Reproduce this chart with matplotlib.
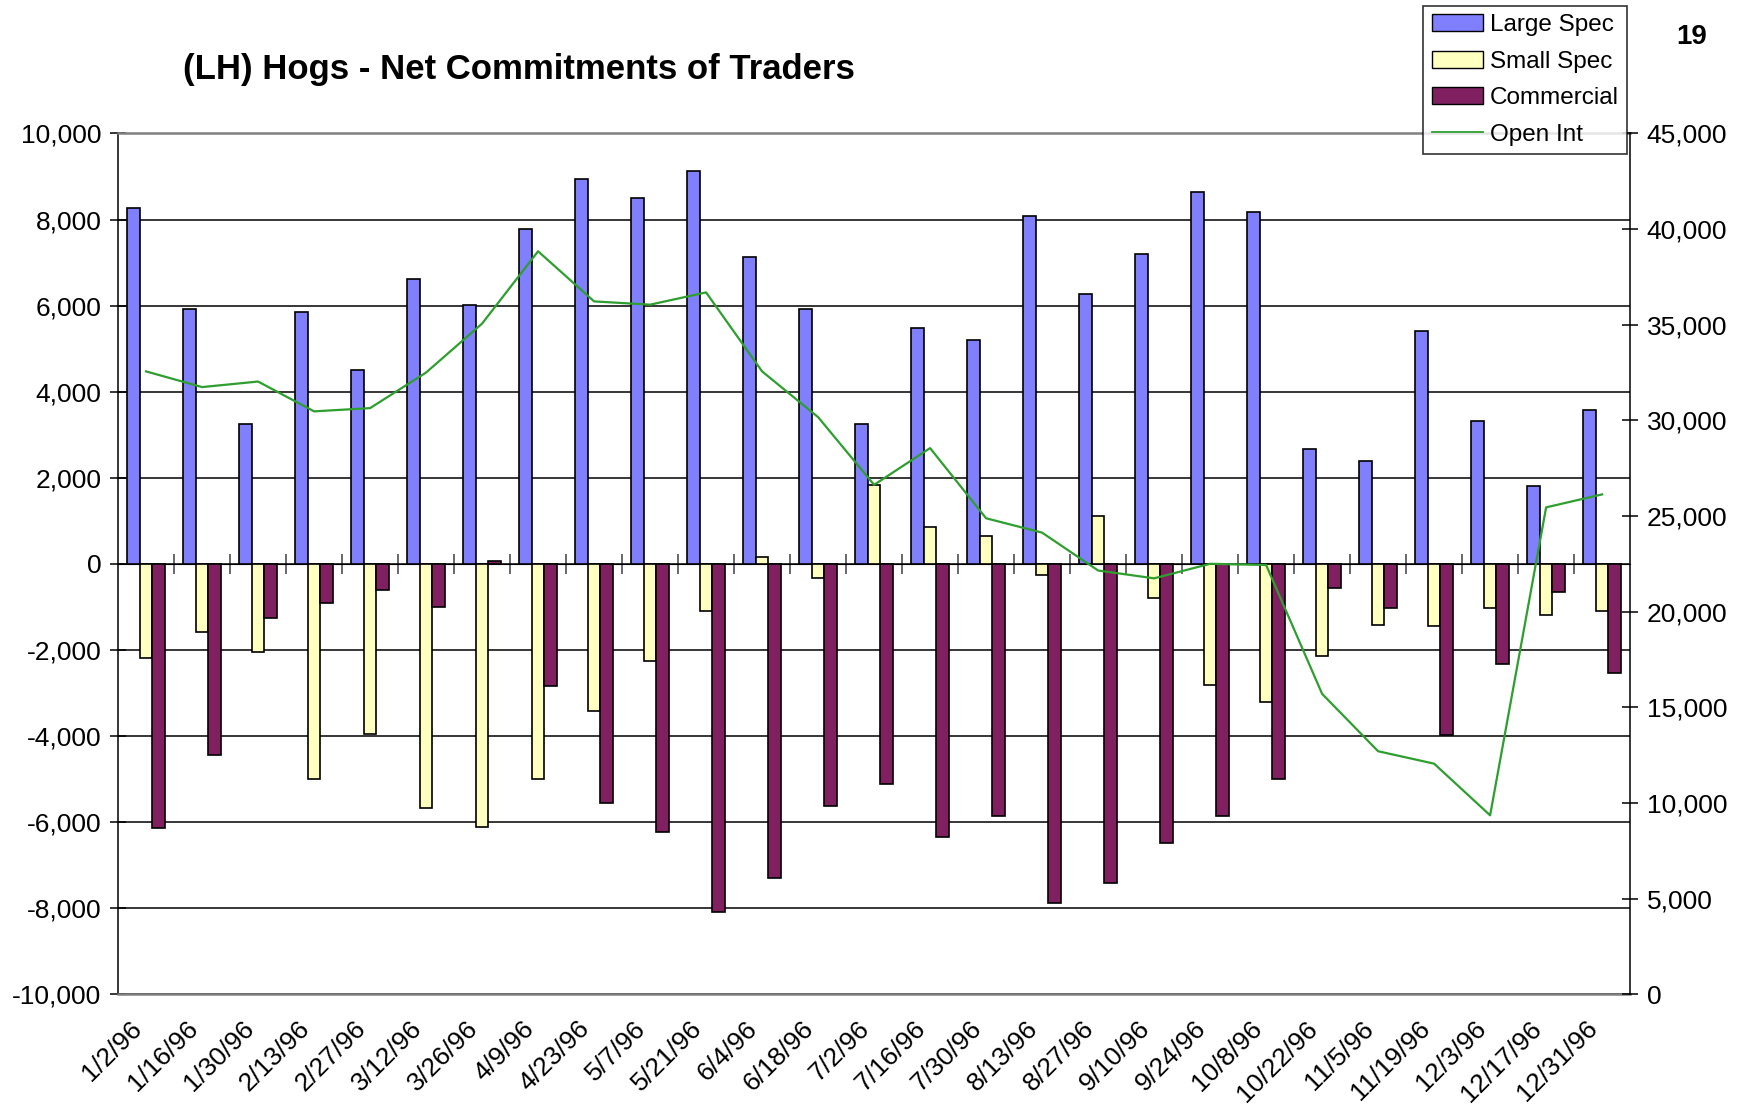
import numpy as np
import matplotlib
matplotlib.use("Agg")
import matplotlib.pyplot as plt
import matplotlib.transforms as mtransforms
from matplotlib.patches import Patch
from matplotlib.lines import Line2D
from matplotlib.ticker import FuncFormatter

plt.rcParams['font.family'] = ['Liberation Sans', 'DejaVu Sans']

dates = ["1/2/96", "1/16/96", "1/30/96", "2/13/96", "2/27/96", "3/12/96", "3/26/96",
         "4/9/96", "4/23/96", "5/7/96", "5/21/96", "6/4/96", "6/18/96", "7/2/96",
         "7/16/96", "7/30/96", "8/13/96", "8/27/96", "9/10/96", "9/24/96", "10/8/96",
         "10/22/96", "11/5/96", "11/19/96", "12/3/96", "12/17/96", "12/31/96"]

large_spec = [8270, 5920, 3260, 5840, 4500, 6615, 6020, 7780, 8940, 8500, 9120, 7130,
              5920, 3260, 5480, 5190, 8090, 6280, 7210, 8630, 8165, 2660, 2400, 5400,
              3330, 1810, 3570]
small_spec = [-2200, -1580, -2040, -5010, -3950, -5680, -6120, -4990, -3410, -2270, -1090,
              150, -330, 1830, 850, 650, -260, 1110, -800, -2820, -3200, -2140, -1420,
              -1450, -1030, -1190, -1090]
commercial = [-6150, -4440, -1270, -900, -620, -1010, 70, -2840, -5560, -6230, -8090,
              -7310, -5630, -5120, -6360, -5870, -7880, -7420, -6490, -5870, -4990, -570,
              -1030, -3980, -2330, -650, -2530]
open_int = [32560, 31740, 32030, 30470, 30640, 32500, 35060, 38840, 36220, 36050, 36690,
            32560, 30170, 26630, 28550, 24880, 24130, 22150, 21740, 22500, 22440, 15700,
            12700, 12050, 9350, 25450, 26130]

C_LARGE = '#8080FF'
C_SMALL = '#FFFFC0'
C_COMM = '#802060'
C_OI = '#2E9E2E'

fig = plt.figure(figsize=(17.44, 11.17), dpi=100)
ax = fig.add_axes([0.0677, 0.110, 0.867, 0.7705])

x = np.arange(len(dates))
w = 0.225
ax.bar(x - w, large_spec, w, color=C_LARGE, edgecolor='black', linewidth=1.2, zorder=3)
ax.bar(x, small_spec, w, color=C_SMALL, edgecolor='black', linewidth=1.2, zorder=3)
ax.bar(x + w, commercial, w, color=C_COMM, edgecolor='black', linewidth=1.2, zorder=3)

ax.set_xlim(-0.5, len(dates) - 0.5)
ax.set_ylim(-10000, 10000)
ax.set_yticks(np.arange(-10000, 10001, 2000))
fmt = FuncFormatter(lambda v, p: f"{int(v):,}")
ax.yaxis.set_major_formatter(fmt)
ax.grid(axis='y', color='black', linewidth=1.1, zorder=0)
ax.set_axisbelow(True)
ax.tick_params(axis='y', labelsize=19, direction='inout', length=12, width=1.1, pad=6)

ax.set_xticks(x)
ax.set_xticklabels(dates, rotation=45, ha='right', va='top', rotation_mode='anchor',
                   fontsize=19)
ax.tick_params(axis='x', length=0, pad=16)
shift = mtransforms.ScaledTranslation(-12 / 72, 0, fig.dpi_scale_trans)
for lab in ax.get_xticklabels():
    lab.set_transform(lab.get_transform() + shift)

for s in ['top', 'bottom']:
    ax.spines[s].set_color('#808080')
    ax.spines[s].set_linewidth(1.8)
ax.spines['left'].set_linewidth(1.1)
ax.spines['right'].set_visible(False)

# category axis crossing at zero
sec = ax.secondary_xaxis(0.5)
sec.set_xticks(x[:-1] + 0.5)
sec.set_xticklabels([])
sec.tick_params(direction='inout', length=14, width=1.1, color='#404040')
sec.spines['bottom'].set_color('#505050')
sec.spines['bottom'].set_linewidth(1.6)

ax2 = ax.twinx()
ax2.plot(x, open_int, color=C_OI, linewidth=1.6, zorder=5)
ax2.set_ylim(0, 45000)
ax2.set_yticks(np.arange(0, 45001, 5000))
ax2.yaxis.set_major_formatter(fmt)
ax2.tick_params(axis='y', labelsize=19, direction='inout', length=12, width=1.1, pad=6)
for s in ['top', 'bottom', 'left']:
    ax2.spines[s].set_visible(False)
ax2.spines['right'].set_linewidth(1.1)

fig.text(0.105, 0.938, "(LH) Hogs - Net Commitments of Traders", fontsize=25,
         fontweight='bold', ha='left', va='center')
fig.text(0.970, 0.967, "19", fontsize=20, fontweight='bold', ha='center', va='center')

handles = [Patch(facecolor=C_LARGE, edgecolor='black', label='Large Spec'),
           Patch(facecolor=C_SMALL, edgecolor='black', label='Small Spec'),
           Patch(facecolor=C_COMM, edgecolor='black', label='Commercial'),
           Line2D([0], [0], color=C_OI, linewidth=1.3, label='Open Int')]
leg = fig.legend(handles=handles, loc='upper left', bbox_to_anchor=(0.816, 0.995),
                 fontsize=17.5, frameon=True, fancybox=False, edgecolor='black',
                 handlelength=2.1, handleheight=0.7, handletextpad=0.3,
                 labelspacing=0.6, borderpad=0.35, borderaxespad=0)
leg.get_frame().set_linewidth(1.2)

fig.savefig("out.png", dpi=100, facecolor='white')
